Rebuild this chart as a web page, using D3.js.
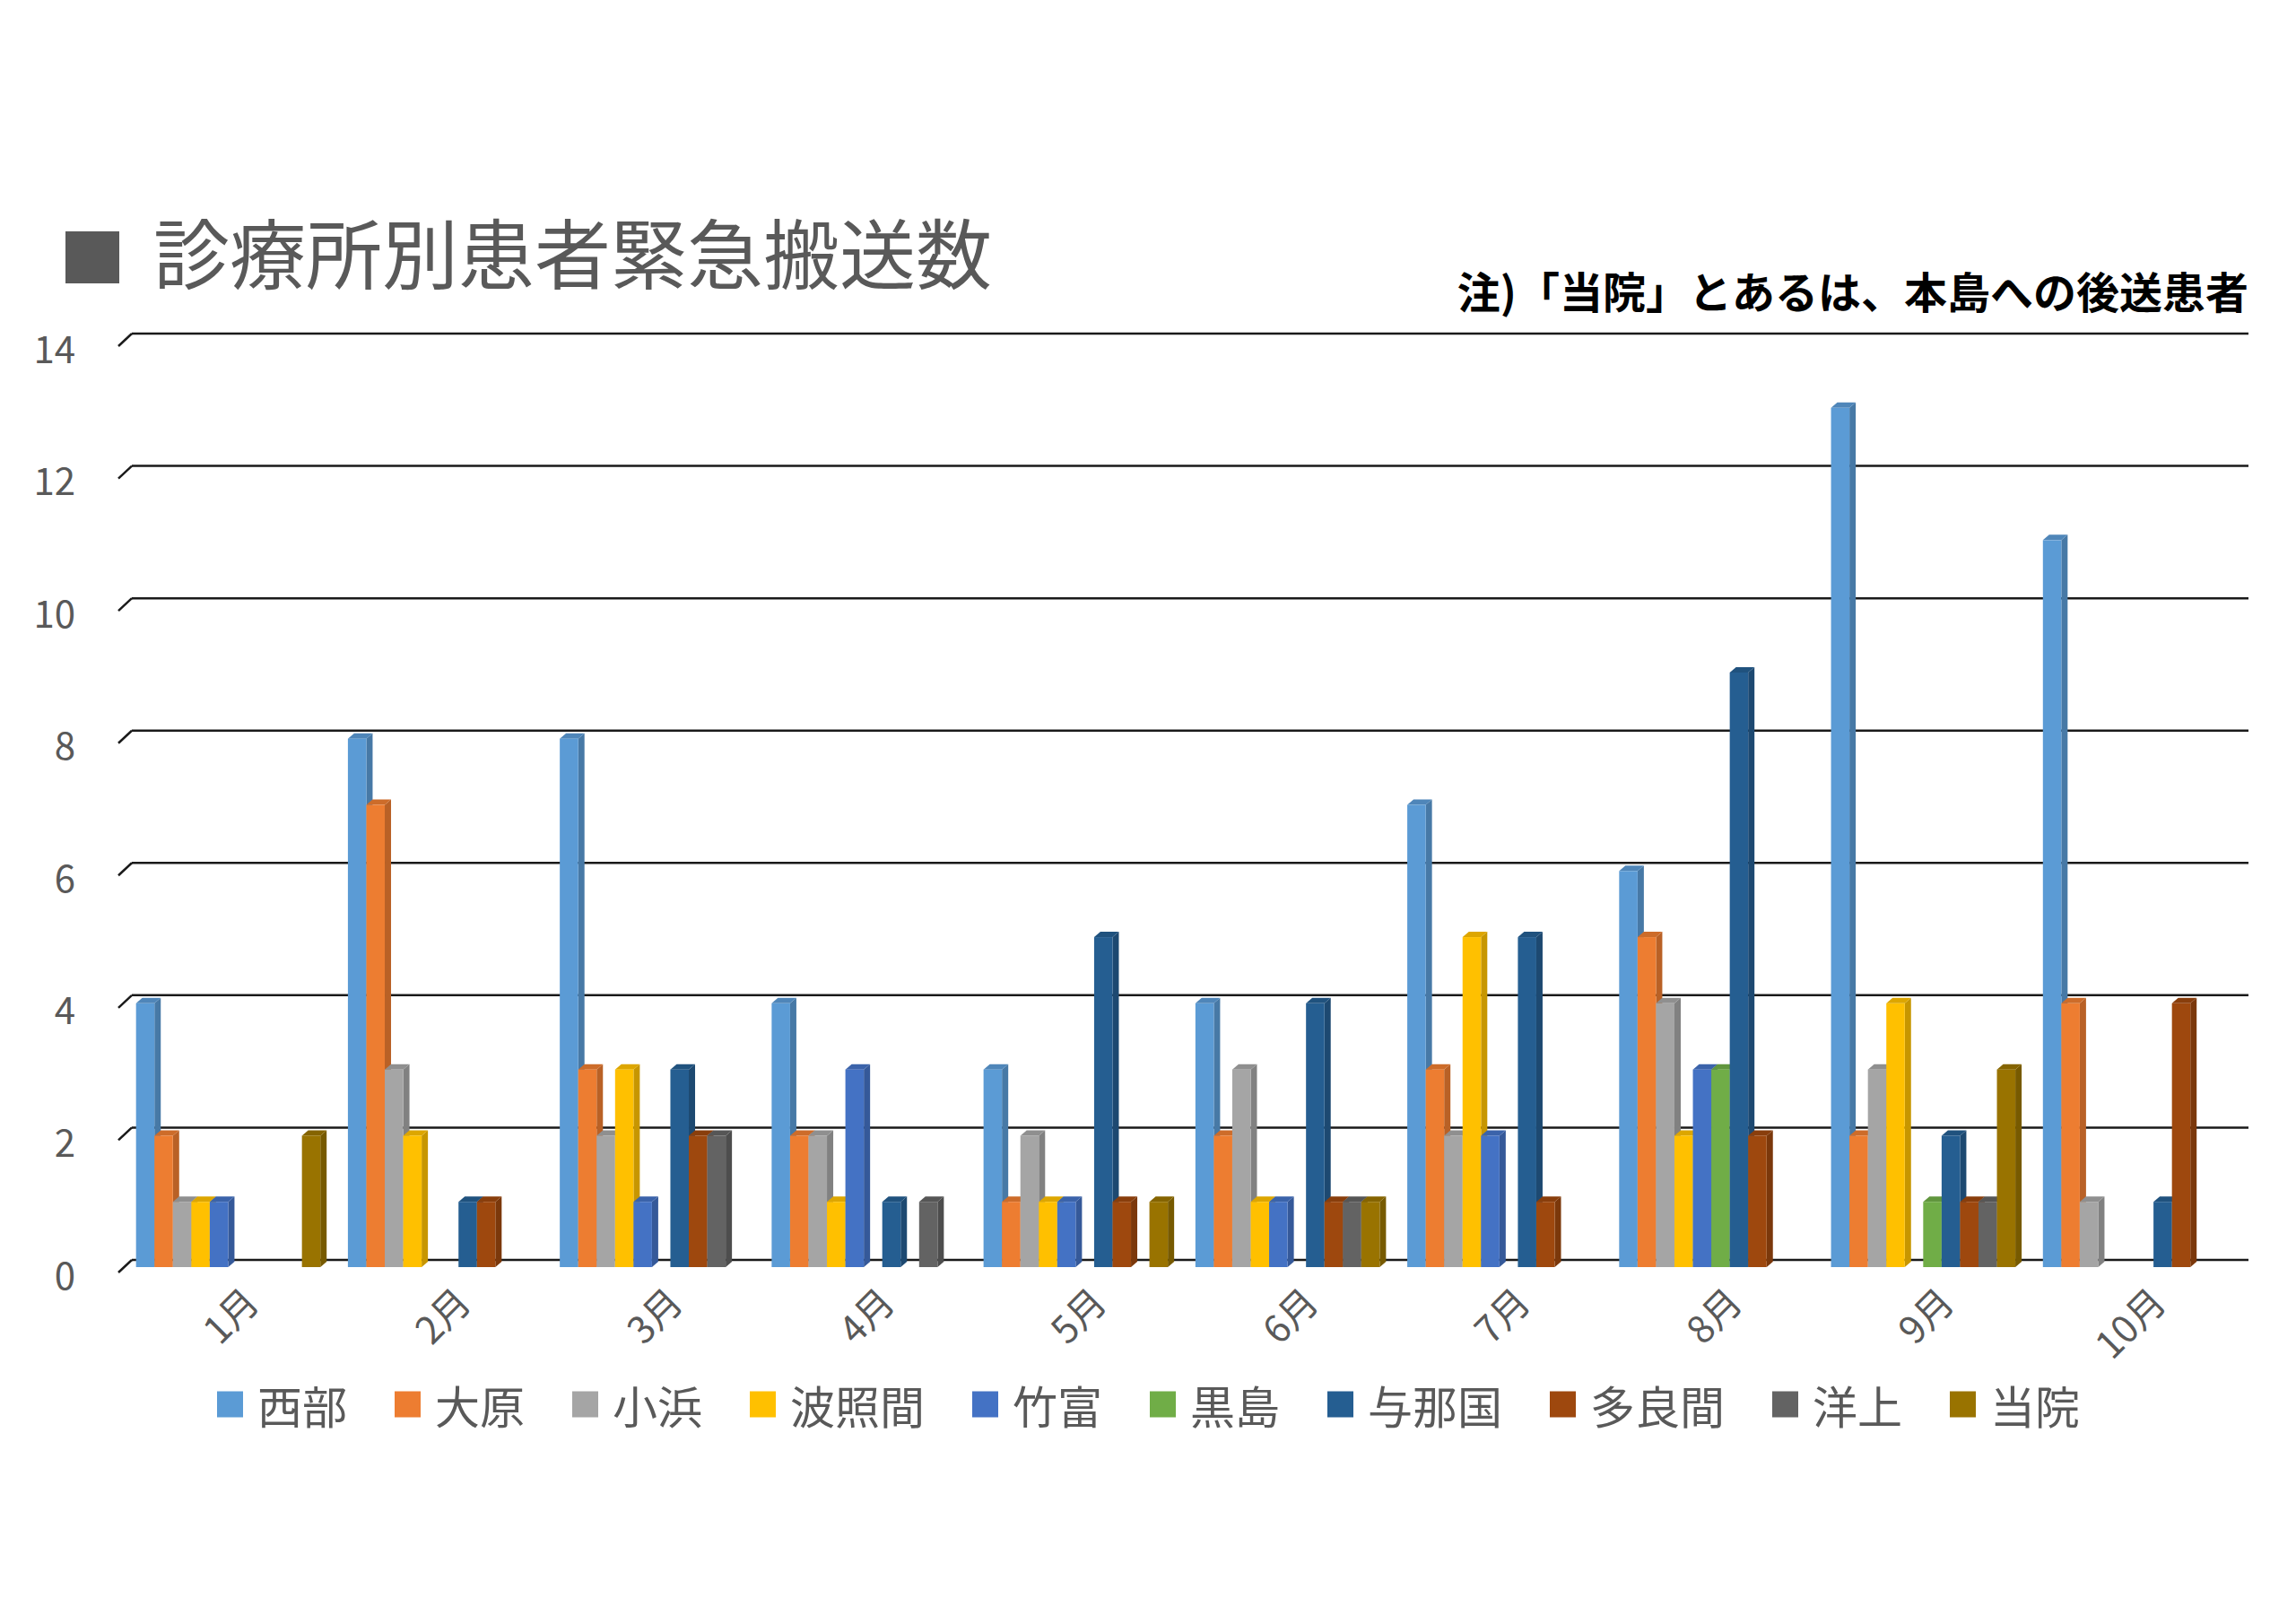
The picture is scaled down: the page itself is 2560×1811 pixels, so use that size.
<!DOCTYPE html>
<html>
<head>
<meta charset="utf-8">
<script src="https://cdn.jsdelivr.net/npm/d3@7"></script>
<style>
  body { margin: 0; background: #fff; }
  text { font-family: "Noto Sans CJK JP", "Noto Sans", sans-serif; }
</style>
</head>
<body>
<div id="chart"></div>
<script>
// data
const months = ["1月", "2月", "3月", "4月", "5月", "6月", "7月", "8月", "9月", "10月"];
const clinics = ["西部", "大原", "小浜", "波照間", "竹富", "黒島", "与那国", "多良間", "洋上", "当院"];
const seibu = [4, 8, 8, 4, 3, 4, 7, 6, 13, 11];
const ohara = [2, 7, 3, 2, 1, 2, 3, 5, 2, 4];
const kohama = [1, 3, 2, 2, 2, 3, 2, 4, 3, 1];
const hateruma = [1, 2, 3, 1, 1, 1, 5, 2, 4, 0];
const taketomi = [1, 0, 1, 3, 1, 1, 2, 3, 0, 0];
const kuroshima = [0, 0, 0, 0, 0, 0, 0, 3, 1, 0];
const yonaguni = [0, 1, 3, 1, 5, 4, 5, 9, 2, 1];
const tarama = [0, 1, 2, 0, 1, 1, 1, 2, 1, 4];
const youjou = [0, 0, 2, 1, 0, 1, 0, 0, 1, 0];
const touin = [2, 0, 0, 0, 1, 1, 0, 0, 3, 0];
const yTicks = [0, 2, 4, 6, 8, 10, 12, 14];

const allValues = [seibu, ohara, kohama, hateruma, taketomi, kuroshima, yonaguni, tarama, youjou, touin];
const colors = ["#5B9BD5", "#ED7D31", "#A5A5A5", "#FFC000", "#4472C4", "#70AD47", "#255E91", "#9E480E", "#636363", "#997300"];

var W = 2560, H = 1811;
var plotLeft = 147, plotRight = 2507;
var depthX = 15, depthY = 14;     // floor depth (back wall -> front)
var barShift = 9;                 // bars sit part way into the depth
var barDx = 7, barDy = 6;         // bar top/side depth

var svg = d3.select("#chart").append("svg")
  .attr("width", W)
  .attr("height", H);

svg.append("rect").attr("width", W).attr("height", H).attr("fill", "#fff");

var y = d3.scaleLinear().domain([0, 14]).range([1405, 372]);

var x = d3.scaleBand()
  .domain(months)
  .range([plotLeft - barShift - 0.5, plotRight - barShift - 0.5])
  .paddingInner(0.13)
  .paddingOuter(0.06);

var xs = d3.scaleBand().domain(clinics).range([0, x.bandwidth()]);

// title
svg.append("rect")
  .attr("x", 73).attr("y", 258)
  .attr("width", 60).attr("height", 58)
  .attr("fill", "#595959");
svg.append("text")
  .attr("x", 171).attr("y", 316)
  .attr("font-size", 85)
  .attr("fill", "#595959")
  .text("診療所別患者緊急搬送数");

svg.append("text")
  .attr("x", 2507).attr("y", 344)
  .attr("text-anchor", "end")
  .attr("font-size", 48)
  .attr("font-weight", 700)
  .attr("fill", "#000")
  .text("注)「当院」とあるは、本島への後送患者");

// gridlines on the back wall + the little floor slant on the left
var grid = svg.append("g");
grid.selectAll("line.h")
  .data(yTicks)
  .enter().append("line")
  .attr("class", "h")
  .attr("x1", plotLeft).attr("x2", plotRight)
  .attr("y1", function (d) { return y(d); })
  .attr("y2", function (d) { return y(d); })
  .attr("stroke", "#1a1a1a")
  .attr("stroke-width", 2.5);
grid.selectAll("line.s")
  .data(yTicks)
  .enter().append("line")
  .attr("class", "s")
  .attr("x1", plotLeft - depthX).attr("x2", plotLeft)
  .attr("y1", function (d) { return y(d) + depthY; })
  .attr("y2", function (d) { return y(d); })
  .attr("stroke", "#1a1a1a")
  .attr("stroke-width", 2.5);

// y labels
svg.append("g").selectAll("text")
  .data(yTicks)
  .enter().append("text")
  .attr("x", 84)
  .attr("y", function (d) { return y(d) + depthY; })
  .attr("text-anchor", "end")
  .attr("dominant-baseline", "central")
  .attr("font-size", 42)
  .attr("fill", "#595959")
  .text(function (d) { return d; });

// bars, drawn left to right so the next bar hides the previous side
var bars = [];
months.forEach(function (m, i) {
  clinics.forEach(function (c, j) {
    bars.push({ month: m, clinic: c, value: allValues[j][i], color: colors[j] });
  });
});

var bw = xs.bandwidth();
var base = y(0) + barShift - 1;

var barG = svg.append("g").selectAll("g")
  .data(bars.filter(function (d) { return d.value > 0; }))
  .enter().append("g");

barG.append("path")   // side
  .attr("d", function (d) {
    var x0 = x(d.month) + xs(d.clinic) + bw, top = y(d.value) + barShift;
    return "M" + x0 + "," + top + "L" + (x0 + barDx) + "," + (top - barDy) +
      "L" + (x0 + barDx) + "," + (base - barDy) + "L" + x0 + "," + base + "Z";
  })
  .attr("fill", function (d) { return d3.color(d.color).darker(0.7); });

barG.append("path")   // top
  .attr("d", function (d) {
    var x0 = x(d.month) + xs(d.clinic), top = y(d.value) + barShift;
    return "M" + x0 + "," + top + "L" + (x0 + barDx) + "," + (top - barDy) +
      "L" + (x0 + bw + barDx) + "," + (top - barDy) + "L" + (x0 + bw) + "," + top + "Z";
  })
  .attr("fill", function (d) { return d3.color(d.color).darker(0.4); });

barG.append("rect")   // front
  .attr("x", function (d) { return x(d.month) + xs(d.clinic); })
  .attr("y", function (d) { return y(d.value) + barShift; })
  .attr("width", bw)
  .attr("height", function (d) { return base - (y(d.value) + barShift); })
  .attr("fill", function (d) { return d.color; });

// month labels, rotated
svg.append("g").selectAll("text")
  .data(months)
  .enter().append("text")
  .attr("transform", function (d) {
    return "translate(" + (x(d) + x.bandwidth() / 2 + 24) + ",1442) rotate(-45)";
  })
  .attr("text-anchor", "end")
  .attr("dominant-baseline", "central")
  .attr("font-size", 42)
  .attr("fill", "#595959")
  .text(function (d) { return d; });

// legend
var fs = 50, sq = 29, legY = 1566;
var lx = 242;
var legend = svg.append("g");
clinics.forEach(function (c, j) {
  legend.append("rect")
    .attr("x", lx).attr("y", legY - sq / 2)
    .attr("width", sq).attr("height", sq)
    .attr("fill", colors[j]);
  legend.append("text")
    .attr("x", lx + sq + 16).attr("y", legY)
    .attr("dominant-baseline", "central")
    .attr("font-size", fs)
    .attr("fill", "#595959")
    .text(c);
  lx += sq + 16 + c.length * fs + 53;
});
</script>
</body>
</html>
